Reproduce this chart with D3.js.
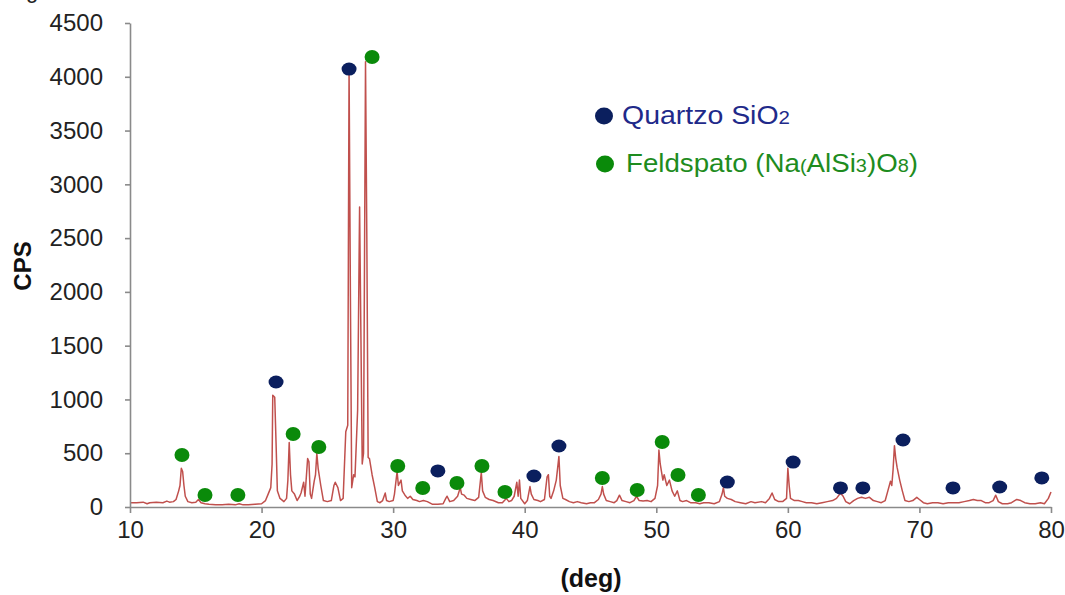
<!DOCTYPE html>
<html><head><meta charset="utf-8">
<script src="https://cdn.jsdelivr.net/npm/d3@7"></script>
<style>
html,body{margin:0;padding:0;background:#fff;}
svg{display:block;font-family:"Liberation Sans",Arial,sans-serif;}
</style></head>
<body>
<svg id="chart" width="1065" height="595"></svg>
<script>
// ---- data ----
const scanDeg = [10.0,10.5,11.0,11.3,11.5,12.0,12.5,12.8,13.0,13.3,13.5,13.7,13.8,13.9,14.0,14.1,14.2,14.4,14.7,15.0,15.2,15.4,15.7,16.0,16.5,17.0,17.5,18.0,18.3,18.6,19.0,19.5,20.0,20.3,20.5,20.7,20.8,20.85,21.0,21.1,21.2,21.4,21.7,21.9,22.0,22.1,22.2,22.3,22.5,22.7,22.9,23.0,23.2,23.3,23.5,23.6,23.7,23.8,24.0,24.1,24.2,24.3,24.5,24.7,25.0,25.3,25.5,25.6,25.8,26.0,26.2,26.4,26.55,26.65,26.75,26.85,27.0,27.1,27.3,27.45,27.55,27.65,27.75,27.9,28.0,28.1,28.2,28.4,28.6,28.8,29.0,29.2,29.4,29.5,29.7,30.0,30.1,30.3,30.4,30.6,30.7,30.9,31.1,31.3,31.5,31.8,32.0,32.3,32.6,33.0,33.4,33.8,34.0,34.1,34.3,34.6,34.9,35.1,35.2,35.4,35.6,35.9,36.2,36.5,36.7,36.8,37.0,37.3,37.6,38.0,38.3,38.6,38.8,39.0,39.2,39.4,39.5,39.6,39.7,40.0,40.2,40.4,40.5,40.7,41.0,41.2,41.5,41.7,41.8,41.9,42.0,42.2,42.4,42.6,42.7,42.9,43.1,43.4,43.7,44.0,44.3,44.7,45.0,45.3,45.6,45.8,45.9,46.0,46.2,46.5,46.8,47.0,47.2,47.4,47.7,48.0,48.3,48.5,48.7,49.0,49.3,49.6,49.9,50.1,50.2,50.3,50.5,50.6,50.8,51.0,51.2,51.4,51.6,51.8,52.0,52.3,52.6,53.0,53.3,53.6,54.0,54.4,54.8,55.0,55.1,55.2,55.4,55.7,56.0,56.4,56.8,57.2,57.5,58.0,58.3,58.6,58.8,59.0,59.3,59.6,59.9,60.0,60.1,60.2,60.5,60.8,61.1,61.4,61.8,62.2,62.6,63.0,63.4,63.7,64.0,64.2,64.4,64.7,65.0,65.3,65.6,65.9,66.2,66.5,66.8,67.1,67.4,67.6,67.8,67.9,68.0,68.1,68.2,68.3,68.5,68.7,68.9,69.2,69.5,69.8,70.0,70.3,70.6,71.0,71.4,71.8,72.2,72.6,73.0,73.4,73.8,74.1,74.4,74.7,75.0,75.3,75.6,75.8,76.0,76.3,76.7,77.0,77.4,77.7,78.0,78.4,78.8,79.2,79.5,79.8,80.0];
const scanCps = [40,40,45,30,40,45,40,55,45,50,70,150,200,360,330,200,100,50,40,45,70,40,30,25,20,20,25,20,30,20,20,25,30,60,120,180,400,1040,1020,600,150,80,50,80,250,600,300,150,120,60,100,130,230,100,450,420,120,80,240,300,500,360,200,60,50,60,200,230,180,60,80,700,760,4090,2000,180,300,280,900,2790,1600,400,500,4140,2500,460,450,300,180,50,40,60,130,60,50,60,120,330,200,250,150,110,80,100,70,60,50,60,50,25,25,30,80,100,50,60,100,180,120,110,80,70,60,90,320,150,90,70,60,40,40,80,50,60,100,230,100,250,80,30,60,190,120,70,60,50,70,280,300,100,80,150,250,470,200,80,70,50,40,50,40,30,40,40,70,120,190,120,60,50,40,60,110,60,50,40,60,100,60,55,60,50,80,200,530,400,250,300,200,250,150,100,150,60,50,60,40,40,30,40,40,30,50,120,180,100,80,70,50,40,30,50,40,50,40,80,130,70,50,50,80,360,200,80,60,60,50,40,40,30,40,50,60,80,130,100,50,30,60,80,90,80,90,60,50,40,60,150,240,200,350,570,450,370,250,150,60,50,60,90,70,40,30,40,40,30,40,40,40,50,60,70,60,60,40,40,60,110,50,30,30,40,70,60,40,30,30,40,30,80,140];

const quartzDeg = [21.1,26.65,33.4,40.7,42.6,55.4,60.4,64.0,65.7,68.75,72.55,76.1,79.3];
const quartzCps = [1162,4072,335,288,567,232,418,177,177,623,177,186,270];
const feldDeg = [13.95,15.7,18.2,22.4,24.35,28.4,30.35,32.25,34.85,36.75,38.5,45.9,48.55,50.45,51.65,53.2];
const feldCps = [483,112,112,679,558,4184,381,177,223,381,140,270,158,604,298,112];

const xTicks = [10,20,30,40,50,60,70,80];
const yTicks = [0,500,1000,1500,2000,2500,3000,3500,4000,4500];

// ---- drawing ----
const svg = d3.select("#chart");
const x = d3.scaleLinear().domain([10,80]).range([130,1051]);
const y = d3.scaleLinear().domain([0,4500]).range([507,23]);
const axisColor = "#8a8a8a";
const quartzColor = "#0b1f5e";
const feldColor = "#0a8a0a";

// partial caption cut off above
svg.append("text").attr("x",26).attr("y",-2).attr("font-size",22).attr("fill","#222").text("g");

const pts = scanDeg.map((d,i)=>[d,scanCps[i]]);
svg.append("path").datum(pts)
  .attr("fill","none").attr("stroke","#c0504d").attr("stroke-width",1.5)
  .attr("stroke-linejoin","round")
  .attr("d", d3.line().x(d=>x(d[0])).y(d=>y(d[1])));

// axes
const gy = svg.append("g").attr("transform","translate(130,0)")
  .call(d3.axisLeft(y).tickValues(yTicks).tickSize(5).tickSizeOuter(0).tickPadding(22).tickFormat(d3.format("d")));
const gx = svg.append("g").attr("transform","translate(0,507)")
  .call(d3.axisBottom(x).tickValues(xTicks).tickSize(6).tickSizeOuter(0).tickPadding(8).tickFormat(d3.format("d")));
[gx,gy].forEach(g=>{
  g.select(".domain").attr("stroke",axisColor).attr("stroke-width",1.6);
  g.selectAll(".tick line").attr("stroke",axisColor).attr("stroke-width",1.6);
  g.selectAll(".tick text").attr("fill","#222").attr("font-size",24)
    .attr("font-family","'Liberation Sans',Arial,sans-serif");
});

// markers
svg.append("g").selectAll("ellipse").data(quartzDeg.map((d,i)=>[d,quartzCps[i]])).join("ellipse")
  .attr("cx",d=>x(d[0])).attr("cy",d=>y(d[1])).attr("rx",7.5).attr("ry",6.5).attr("fill",quartzColor);
svg.append("g").selectAll("ellipse").data(feldDeg.map((d,i)=>[d,feldCps[i]])).join("ellipse")
  .attr("cx",d=>x(d[0])).attr("cy",d=>y(d[1])).attr("rx",7.5).attr("ry",7).attr("fill",feldColor);

// axis titles
svg.append("text").attr("transform","translate(31,266) rotate(-90)").attr("text-anchor","middle")
  .attr("font-weight","bold").attr("font-size",24).attr("fill","#111").text("CPS");
svg.append("text").attr("x",591).attr("y",587).attr("text-anchor","middle")
  .attr("font-weight","bold").attr("font-size",25).attr("fill","#111").text("(deg)");

// legend
const leg = svg.append("g");
leg.append("ellipse").attr("cx",604).attr("cy",116).attr("rx",9).attr("ry",8.5).attr("fill",quartzColor);
const t1 = leg.append("text").attr("x",622).attr("y",124).attr("font-size",25).attr("fill","#1f2a8a")
  .attr("textLength",168).attr("lengthAdjust","spacingAndGlyphs");
t1.append("tspan").text("Quartzo SiO");
t1.append("tspan").attr("font-size",18).text("2");
leg.append("ellipse").attr("cx",605).attr("cy",164).attr("rx",9).attr("ry",8.5).attr("fill",feldColor);
const t2 = leg.append("text").attr("x",626).attr("y",172).attr("font-size",25).attr("fill","#1e8c1e")
  .attr("textLength",292).attr("lengthAdjust","spacingAndGlyphs");
t2.append("tspan").text("Feldspato (Na");
t2.append("tspan").attr("font-size",18).text("(");
t2.append("tspan").text("AlSi");
t2.append("tspan").attr("font-size",18).text("3");
t2.append("tspan").text(")O");
t2.append("tspan").attr("font-size",18).text("8");
t2.append("tspan").text(")");
</script>
</body></html>
